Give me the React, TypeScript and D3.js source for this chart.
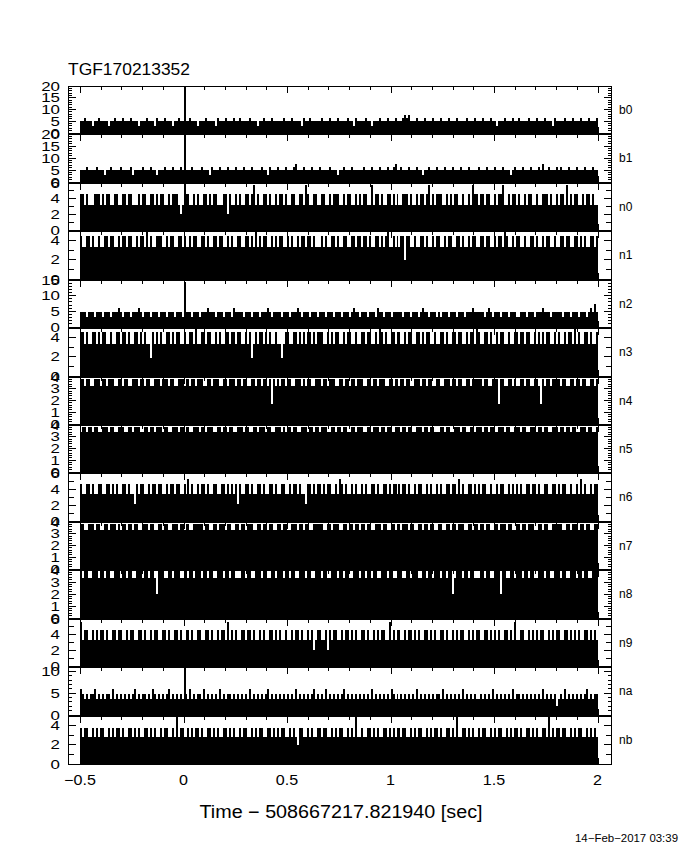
import React from "react";
import * as d3 from "d3";

// ---------- data ----------
const detectors = ["b0", "b1", "n0", "n1", "n2", "n3", "n4", "n5", "n6", "n7", "n8", "n9", "na", "nb"];
const yMaxima = [20, 20, 6, 5, 15, 5, 4, 4, 6, 4, 4, 6, 11, 5];
const timeStart = -0.5;
const timeEnd = 2.0;
const xTickValues = [-0.5, 0, 0.5, 1, 1.5, 2];
const xTickLabels = ["\u22120.5", "0", "0.5", "1", "1.5", "2"];
const titleText = "TGF170213352";
const xTitle = "Time \u2212 508667217.821940 [sec]";
const dateText = "14\u2212Feb\u22122017 03:39";

// count levels (axis units) indexed by bin code 0..5
const levelsB0 = [1.5, 3.0, 5.0, 6.3, 7.5, 21];
const levelsB1 = [1.5, 2.9, 5.0, 6.3, 7.5, 21];
const levelsN0 = [2.0, 3.2, 4.6, 5.7, 5.9, 6.1];
const levelsN1 = [2.0, 3.3, 4.5, 4.9, 5.0, 5.0];
const levelsN2 = [1.5, 3.2, 4.7, 6.0, 7.5, 14.5];
const levelsN3 = [1.9, 3.3, 4.6, 5.0, 5.0, 5.0];
const levelsN4 = [1.7, 3.2, 3.83, 4.0, 4.0, 4.0];
const levelsN5 = [1.7, 3.4, 3.83, 4.0, 4.0, 4.0];
const levelsN6 = [2.1, 3.35, 4.6, 5.2, 6.0, 6.0];
const levelsN7 = [1.7, 3.3, 3.86, 4.0, 4.0, 4.0];
const levelsN8 = [2.0, 3.3, 3.95, 4.0, 4.0, 4.0];
const levelsN9 = [2.0, 3.35, 4.6, 5.6, 6.0, 6.0];
const levelsNa = [2.0, 3.6, 4.7, 6.0, 7.0, 11.0];
const levelsNb = [2.0, 2.8, 3.8, 4.85, 5.0, 5.0];

// per-bin level codes, -0.5 .. 2.0 s
const binsB0 = [
  "22322212232222122322", "23222322212223222132", "22322212232252232221", "22232222132223222322",
  "32222322212232223222", "22322232222132232222", "23222322232222322132", "22232212223222322232",
  "22343422232223222322", "23222322232222322232", "22322232212223222322", "32222322232223222132",
  "22232223222322232223",
].join("");
const binsB1 = [
  "22232222322212232222", "32222312222322232212", "22322232223252223222", "23222132223222322232",
  "22322232222322132223", "22232223422232223222", "32222322212232223222", "22322232223222322342",
  "23222322232212232223", "22232223222322232222", "32223222322232221232", "22322232223242232223",
  "23222322232223222322",
].join("");
const binsN0 = [
  "22121112221212211221", "12212211121221122121", "22112122210152211212", "11221212211122021121",
  "21122123121122121121", "22121122112213211221", "12211212221121221121", "21221131221211221212",
  "11222121121221231212", "22112121221121121322", "12212211212231121221", "21121221121122212112",
  "12213121221121221211",
].join("");
const binsN1 = [
  "21122121121122122112", "12212211212213121122", "21121221122121121221", "12212112212211212112",
  "21122121312122112121", "22112121121221221211", "12121122121122112212", "21221211221212311212",
  "12202211211221211212", "21121221122121121221", "12212211212213211212", "21121122121121221121",
  "12212211221212112212",
].join("");
const binsN2 = [
  "22212221222122212223", "21222122232122212221", "22212221222152221222", "12223222122212221322",
  "22122212221222321222", "21222122232122212221", "22212221222122212322", "12221222132212221222",
  "22122212221232212221", "21222122212221222322", "22212321222122212221", "12221222122232221222",
  "22122212221222123242",
].join("");
const binsN3 = [
  "22121122121221121122", "12212112212121102121", "21122121221121122131", "12212211212112212212",
  "21121201212212121121", "10122112212121221212", "22112121221121221121", "12212211213212112212",
  "21121221122121221121", "12212112212211212213", "21122121121221121122", "12212211212121221121",
  "21121221312112212112",
].join("");
const binsN4 = [
  "22122112221221222112", "21221122212212211222", "12221221122212212212", "22112212221122122212",
  "21221122122122120212", "12212211222121221122", "21221222112212212212", "22112212212221122122",
  "12212211222122122112", "21122212212211221222", "22122112220221122121", "12212211221021221222",
  "21221122122122112212",
].join("");
const binsN5 = [
  "12212212211222122112", "22112212221122122122", "21221122212212211222", "12212221122122122112",
  "22122112212221221122", "21212212211222122122", "12221122122122112212", "22112212221221221122",
  "21221221122212212211", "12212211222122112212", "22122122112221221122", "21221122212212211222",
  "12212212211222122112",
].join("");
const binsN6 = [
  "21122121122112212121", "12212110212211212212", "21121221221121312112", "12212112211221212120",
  "21122121122121122121", "12211212212110221212", "21212211213212112121", "12121122121122121221",
  "21221211212211212112", "12112212213121122121", "21221121121221121212", "12112212212112211221",
  "21221121121312112122",
].join("");
const binsN7 = [
  "22112221221122122212", "12212212211222122112", "21221122212212211222", "22122112212221221122",
  "12212221122122122112", "21221122212212211222", "22112212221122122122", "12212211222122112212",
  "21222122112212212211", "22112212212221122122", "12212211221222122112", "21221222112212211222",
  "22112212221221221122",
].join("");
const binsN8 = [
  "21221122212212211222", "12212211222122122102", "22112212221122122122", "21221221122212212211",
  "12212211222122112212", "22122122112221221122", "21221122212212211222", "12212212211222122112",
  "22112212221122122122", "21221220122212212211", "12212211222022112212", "22122122112221221122",
  "21221122212212211222",
].join("");
const binsN9 = [
  "31221121212212112212", "21121221122121121221", "12212112212112212112", "21122121121221312121",
  "12212212112121122121", "21121121221211212012", "21120212211212212121", "12212112121221131212",
  "21121221212112212121", "12212112121221121212", "21122121212112212131", "12211212121221121212",
  "21122121212112212121",
].join("");
const binsNa = [
  "32121223121212213121", "21212123121221213212", "12123121212152131212", "21312121213121221212",
  "12121312121212312121", "21212121312121212312", "12131212121231212121", "21212131212121213212",
  "12121212131212121212", "21312121212131212121", "12121213121212121312", "21212121212131212120",
  "12131212121212312122",
].join("");
const binsNb = [
  "21221121212211212122", "12112212121122121211", "21221121312211212122", "12112212121122121211",
  "21221121212211221212", "12211212102211212112", "21221121212211212131", "12112212121122121212",
  "21221121212211212122", "12112212131122121211", "21221121212211212122", "12112212121122131212",
  "21221121212211212121",
].join("");

const allLevels = [levelsB0, levelsB1, levelsN0, levelsN1, levelsN2, levelsN3, levelsN4, levelsN5, levelsN6, levelsN7, levelsN8, levelsN9, levelsNa, levelsNb];
const allBins = [binsB0, binsB1, binsN0, binsN1, binsN2, binsN3, binsN4, binsN5, binsN6, binsN7, binsN8, binsN9, binsNa, binsNb];

// ---------- layout ----------
const W = 680;
const H = 850;
const X0 = 68;
const X1 = 611;
const TOP = 86;
const BOT = 764;
const FONT = "'Liberation Sans', Arial, Helvetica, sans-serif";

function yTickSpec(yMax: number) {
  if (yMax >= 10) {
    const major = d3.range(0, yMax + 0.001, 5);
    const minor = d3.range(0, yMax + 0.001, 1).filter((v) => v % 5 !== 0);
    return { major, minor, labels: major, majorLen: 8, minorLen: 4 };
  }
  if (yMax === 4) {
    const major = d3.range(0, 4.001, 1);
    const minor = d3.range(0, 4.001, 0.2).filter((v) => Math.abs(v - Math.round(v)) > 1e-6);
    return { major, minor, labels: major, majorLen: 8, minorLen: 4 };
  }
  const major = d3.range(0, yMax + 0.001, 2);
  const minor = d3.range(0, yMax + 0.001, 1).filter((v) => v % 2 !== 0);
  return { major, minor, labels: major, majorLen: 8, minorLen: 6 };
}

export default function App() {
  const n = detectors.length;
  const ph = (BOT - TOP) / n;
  const x = d3.scaleLinear().domain([-0.558, 2.065]).range([X0, X1]);
  const xMinor = d3.range(-5, 21).map((k) => k / 10);

  const panels = detectors.map((name, i) => {
    const yTop = Math.round(TOP + i * ph);
    const yBot = i < n - 1 ? Math.round(TOP + (i + 1) * ph) - 1 : BOT;
    const yMax = yMaxima[i];
    const y = d3.scaleLinear().domain([0, yMax]).range([yBot, yTop]);
    const levels = allLevels[i];
    const bins = allBins[i];
    const w = (timeEnd - timeStart) / bins.length;
    const bars = bins.split("").map((c, j) => {
      const v = Math.min(levels[+c], yMax);
      const xa = Math.round(x(timeStart + j * w));
      const xb = Math.round(x(timeStart + (j + 1) * w));
      const yv = Math.round(y(v));
      return <rect key={`b${j}`} x={xa} y={yv} width={Math.max(1, xb - xa)} height={yBot + 1 - yv} />;
    });
    const spec = yTickSpec(yMax);
    const px = (v: number) => Math.round(v) + 0.5;
    const ticks: React.ReactNode[] = [];
    xMinor.forEach((t, k) => {
      const isMajor = Math.abs(t * 2 - Math.round(t * 2)) < 1e-6;
      const len = isMajor ? 7 : 4;
      const xx = px(x(t));
      ticks.push(<line key={`xt${k}`} x1={xx} x2={xx} y1={yTop} y2={yTop + len} />);
      ticks.push(<line key={`xb${k}`} x1={xx} x2={xx} y1={yBot + 1} y2={yBot + 1 - len} />);
    });
    const yt = (vals: number[], len: number, key: string) =>
      vals.forEach((v, k) => {
        const yy = px(y(v) - 0.5);
        ticks.push(<line key={`${key}l${k}`} x1={X0} x2={X0 + len} y1={yy} y2={yy} />);
        ticks.push(<line key={`${key}r${k}`} x1={X1 + 1} x2={X1 + 1 - len} y1={yy} y2={yy} />);
      });
    yt(spec.major, spec.majorLen, "M");
    yt(spec.minor, spec.minorLen, "m");
    return (
      <g key={name}>
        <g fill="#000" shapeRendering="crispEdges">
          {bars}
        </g>
        <rect
          x={X0 + 0.5}
          y={yTop + 0.5}
          width={X1 - X0}
          height={yBot - yTop}
          fill="none"
          stroke="#000"
          strokeWidth={1}
          shapeRendering="crispEdges"
        />
        <g stroke="#000" strokeWidth={1} shapeRendering="crispEdges">
          {ticks}
        </g>
        {spec.labels.map((v) => (
          <text
            key={`lab${v}`}
            transform={`translate(60, ${y(v) + 4.6}) scale(1.3, 1)`}
            textAnchor="end"
            fontSize={13}
            fontFamily={FONT}
            fill="#000"
          >
            {String(v)}
          </text>
        ))}
        <text x={619} y={(yTop + yBot) / 2 + 4} fontSize={12} fontFamily={FONT} fill="#000">
          {name}
        </text>
      </g>
    );
  });

  return (
    <svg
      width={W}
      height={H}
      viewBox={`0 0 ${W} ${H}`}
      style={{ position: "absolute", left: 0, top: 0, background: "#fff" }}
    >
      <rect x={0} y={0} width={W} height={H} fill="#fff" />
      <text x={68} y={75} fontSize={17} fontFamily={FONT} textLength={122} lengthAdjust="spacingAndGlyphs">
        {titleText}
      </text>
      {panels}
      {xTickValues.map((t, k) => (
        <text
          key={`xl${k}`}
          transform={`translate(${x(t)}, 785) scale(1.15, 1)`}
          textAnchor="middle"
          fontSize={14}
          fontFamily={FONT}
        >
          {xTickLabels[k]}
        </text>
      ))}
      <text x={341} y={818} textAnchor="middle" fontSize={18} fontFamily={FONT} textLength={283} lengthAdjust="spacingAndGlyphs">
        {xTitle}
      </text>
      <text x={575} y={842} fontSize={10.5} fontFamily={FONT} textLength={103} lengthAdjust="spacingAndGlyphs">
        {dateText}
      </text>
    </svg>
  );
}
